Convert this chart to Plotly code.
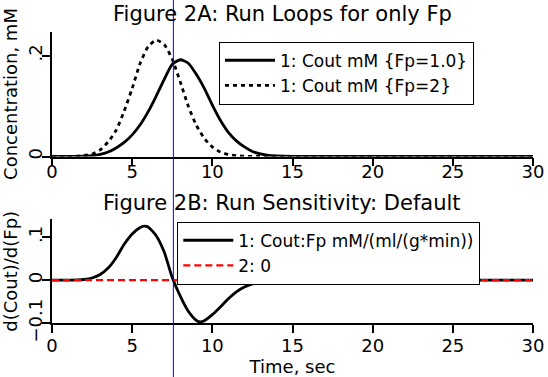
import plotly.graph_objects as go

# ---------------- data ----------------
t_fp1 = [0, 1, 2, 2.5, 3, 3.5, 4, 4.5, 5, 5.5, 6, 6.5, 7, 7.5, 8, 8.5, 9, 9.5,
         10, 10.5, 11, 11.5, 12, 12.5, 13, 13.5, 14, 15, 30]
cout_fp1 = [0, 0, 0.0005, 0.0015, 0.004, 0.009, 0.017, 0.028, 0.043, 0.063, 0.089,
            0.12, 0.153, 0.183, 0.192, 0.185, 0.163, 0.135, 0.102, 0.072, 0.048,
            0.031, 0.019, 0.010, 0.005, 0.002, 0.001, 0, 0]

t_fp2 = [0, 1, 1.5, 2, 2.5, 3, 3.5, 4, 4.5, 5, 5.5, 6, 6.5, 7, 7.5, 8, 8.5, 9,
         9.5, 10, 10.5, 11, 11.5, 12, 13, 30]
cout_fp2 = [0, 0, 0.0005, 0.002, 0.005, 0.013, 0.029, 0.052, 0.09, 0.135, 0.185,
            0.218, 0.231, 0.222, 0.193, 0.148, 0.10, 0.062, 0.036, 0.019, 0.009,
            0.004, 0.0015, 0.0005, 0, 0]

t_sens = [0, 1, 1.5, 2, 2.5, 3, 3.5, 4, 4.5, 5, 5.5, 5.75, 6, 6.5, 7, 7.5, 8,
          8.5, 9, 9.25, 9.5, 10, 10.5, 11, 11.5, 12, 12.5, 13, 14, 15, 30]
sens = [0, 0, 0.0005, 0.0015, 0.005, 0.013, 0.028, 0.052, 0.083, 0.107, 0.122,
        0.125, 0.123, 0.103, 0.065, 0.006, -0.037, -0.072, -0.093, -0.097, -0.094,
        -0.08, -0.062, -0.043, -0.027, -0.016, -0.009, -0.005, -0.002, 0, 0]

t_zero = [0, 30]
zero_line = [0, 0]

cursor_t = 7.57

x_ticks = [0, 5, 10, 15, 20, 25, 30]
y1_ticks = [0, 0.2]
y1_labels = ["0", ".2"]
y2_ticks = [-0.1, 0, 0.1]
y2_labels = ["\u22120.1", "0", ".1"]

names_top = ["1: Cout mM {Fp=1.0}", "1: Cout mM {Fp=2}"]
names_bot = ["1: Cout:Fp mM/(ml/(g*min))", "2: 0"]

# ---------------- figure ----------------
FONT = "DejaVu Sans"
W, H = 548, 377
ML, MR = 52, 15

fig = go.Figure()
fig.add_trace(go.Scatter(x=t_fp1, y=cout_fp1, mode="lines", name=names_top[0],
                         line=dict(color="black", width=2.8, shape="spline", smoothing=0.6),
                         xaxis="x", yaxis="y", legend="legend"))
fig.add_trace(go.Scatter(x=t_fp2, y=cout_fp2, mode="lines", name=names_top[1],
                         line=dict(color="black", width=2.8, dash="4px,4px", shape="spline", smoothing=0.6),
                         xaxis="x", yaxis="y", legend="legend"))
fig.add_trace(go.Scatter(x=t_sens, y=sens, mode="lines", name=names_bot[0],
                         line=dict(color="black", width=2.8, shape="spline", smoothing=0.6),
                         xaxis="x2", yaxis="y2", legend="legend2"))
fig.add_trace(go.Scatter(x=t_zero, y=zero_line, mode="lines", name=names_bot[1],
                         line=dict(color="#ff0000", width=2.3, dash="7px,4px"),
                         xaxis="x2", yaxis="y2", legend="legend2"))

def py(p):
    return 1 - p / H

def px(p):
    return (p - ML) / (W - ML - MR)

axis_common = dict(showline=True, linecolor="black", linewidth=1.5, ticks="outside",
                   ticklen=8, tickwidth=1.5, tickcolor="black", showgrid=False,
                   zeroline=False, automargin=False,
                   tickfont=dict(family=FONT, size=18, color="black"))

legend_common = dict(xanchor="left", yanchor="top", bordercolor="black", borderwidth=1,
                     bgcolor="white", itemwidth=50,
                     font=dict(family=FONT, size=17, color="black"))

fig.update_layout(
    width=W, height=H,
    margin=dict(l=ML, r=MR, t=0, b=0, autoexpand=False),
    paper_bgcolor="white", plot_bgcolor="white",
    font=dict(family=FONT, color="black"),
    xaxis=dict(domain=[0, 1], range=[0, 30], tickvals=x_ticks, anchor="y",
               ticklabelstandoff=-10, **axis_common),
    yaxis=dict(domain=[py(156.5), py(31.5)], range=[0, 0.248], tickvals=y1_ticks,
               ticktext=y1_labels, tickangle=-90, anchor="x", ticklabelstandoff=-7,
               title=dict(text="Concentration, mM", font=dict(family=FONT, size=18), standoff=8),
               **axis_common),
    xaxis2=dict(domain=[0, 1], range=[0, 30], tickvals=x_ticks, anchor="y2",
                ticklabelstandoff=-3,
                title=dict(text="Time, sec", font=dict(family=FONT, size=18), standoff=0),
                **axis_common),
    yaxis2=dict(domain=[py(323.3), py(219.3)], range=[-0.1, 0.141], tickvals=y2_ticks,
                ticktext=y2_labels, tickangle=-90, anchor="x2", ticklabelstandoff=-7,
                title=dict(text="d(Cout)/d(Fp)", font=dict(family=FONT, size=18), standoff=8),
                **axis_common),
    legend=dict(x=px(219), y=py(41.7), **legend_common),
    legend2=dict(x=px(177.3), y=py(221.7), **legend_common),
    showlegend=True,
    shapes=[dict(type="line", xref="x", yref="paper", x0=cursor_t, x1=cursor_t,
                 y0=0, y1=1, line=dict(color="#0000ff", width=1))],
    annotations=[
        dict(text="Figure 2A: Run Loops for only Fp", xref="paper", yref="paper",
             x=px(282), y=py(14.5), xanchor="center", yanchor="middle", showarrow=False,
             font=dict(family=FONT, size=21, color="black")),
        dict(text="Figure 2B: Run Sensitivity: Default", xref="paper", yref="paper",
             x=px(282), y=py(202.5), xanchor="center", yanchor="middle", showarrow=False,
             font=dict(family=FONT, size=21, color="black")),
    ],
)

fig.write_html("out.html", config={"displayModeBar": False},
               post_script="document.body.style.margin='0';")
